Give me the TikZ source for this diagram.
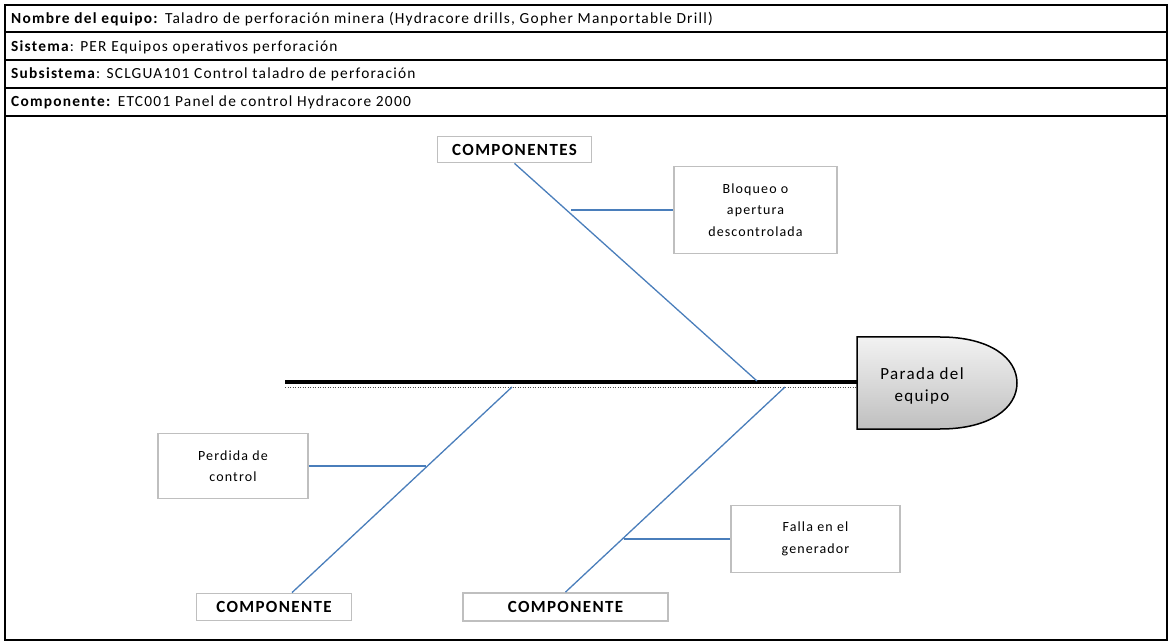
\documentclass[tikz,border=0pt]{standalone}
\usepackage{fontspec}
\setmainfont{Carlito}[LetterSpace=8]
\usetikzlibrary{calc}
\definecolor{boxgray}{HTML}{BFBFBF}
\definecolor{bone}{HTML}{4A7EBB}
\tikzset{
  hdr/.style={anchor=west, inner sep=0pt, font=\fontsize{15.4}{17}\selectfont},
  rowline/.style={line width=1.5pt},
  cbox/.style={draw=boxgray, line width=1.8pt, fill=white, inner sep=0pt, align=center},
  labbox/.style={cbox, font=\fontsize{17}{19}\selectfont\bfseries},
  causebox/.style={cbox, font=\fontsize{14}{21.5}\selectfont},
  branch/.style={draw=bone, line width=1.3pt},
}
\begin{document}
\begin{tikzpicture}[x=1pt,y=-1pt]
\useasboundingbox (0,0) rectangle (1173,644);
% frame and header rows
\draw[line width=1.3pt] (5,5) rectangle (1167,640);
\foreach \yy in {32,60,88,116} \draw[rowline] (5,\yy) -- (1167,\yy);
\node[hdr] (h1) at (11,19) {\textbf{Nombre del equipo:} Taladro de perforación minera (Hydracore drills, Gopher Manportable Drill)};
\node[hdr] (h2) at (11,47) {\textbf{Sistema}: PER Equipos operativos perforación};
\node[hdr] (h3) at (11,74) {\textbf{Subsistema}: SCLGUA101 Control taladro de perforación};
\node[hdr] (h4) at (11,102) {\textbf{Componente:} ETC001 Panel de control Hydracore 2000};
% spine
\coordinate (sp0) at (285,382);
\coordinate (sp1) at (857,382);
\draw[line width=4pt] (sp0) -- (sp1);
\draw[line width=1.2pt, black!70, dash pattern=on 1pt off 1.5pt] ([yshift=-5.5pt]sp0) -- ([yshift=-5.5pt]sp1);
% head
\path[draw=black, line width=1.5pt, top color=black!5, bottom color=black!25]
  (857,337) -- (940,337) .. controls (990,337) and (1017,358) .. (1017,383)
  .. controls (1017,408) and (990,429) .. (940,429) -- (857,429) -- cycle;
\node[font=\fontsize{17}{22}\selectfont, align=center, inner sep=0pt] (head) at (922,386) {Parada del\\equipo};
% boxes
\node[labbox, minimum width=154pt, minimum height=26pt] (ct) at (514.5,149.5) {COMPONENTES};
\node[labbox, minimum width=155pt, minimum height=27pt] (cl) at (274,607) {COMPONENTE};
\node[labbox, minimum width=205pt, minimum height=28pt] (cr) at (565.5,607) {COMPONENTE};
\node[causebox, minimum width=163pt, minimum height=87pt] (bl) at (755.5,210) {Bloqueo o\\apertura\\descontrolada};
\node[causebox, minimum width=150pt, minimum height=65pt] (pd) at (233,466) {Perdida de\\control};
\node[causebox, minimum width=169pt, minimum height=67pt] (fa) at (815.5,539) {Falla en el\\generador};
% branches
\coordinate (s1) at (757,381);
\coordinate (s2) at (512,387);
\coordinate (s3) at (785,387);
\draw[branch] (ct.south) -- (s1);
\draw[branch] ($(cl.north)+(18,0)$) -- (s2);
\draw[branch] (cr.north) -- (s3);
\coordinate (p1) at (571,210);
\coordinate (p2) at (426,466);
\coordinate (p3) at (624,539);
\draw[branch] (p1) -- (bl.west);
\draw[branch] (pd.east) -- (p2);
\draw[branch] (p3) -- (fa.west);
\end{tikzpicture}
\end{document}
